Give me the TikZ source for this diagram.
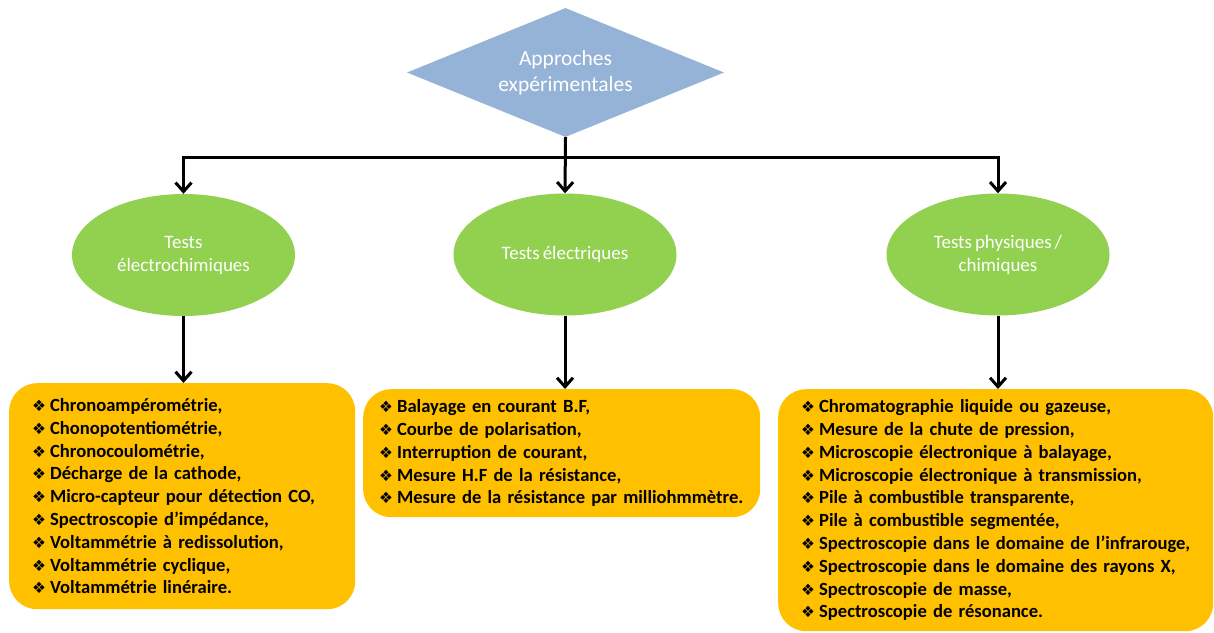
\documentclass[tikz,border=0pt]{standalone}
\usepackage{fontspec}
\setmainfont{Carlito}[WordSpace=0.7]
\newfontfamily\symfont{DejaVu Sans}
\usetikzlibrary{shapes.geometric,arrows.meta}
\definecolor{diamblue}{HTML}{95B3D7}
\definecolor{ellgreen}{HTML}{92D050}
\definecolor{boxorange}{HTML}{FFC000}
\newcommand{\itm}{{\symfont\fontsize{15.5}{15.5}\selectfont ❖}\hspace{4pt}}
\begin{document}
\begin{tikzpicture}[x=1pt,y=-1pt,
  topnode/.style={diamond, fill=diamblue, inner sep=0pt, aspect=2.46, minimum width=317pt, minimum height=129pt, text=white, font=\fontsize{21.5}{26}\selectfont, align=center},
  testnode/.style={ellipse, fill=ellgreen, inner sep=0pt, minimum width=223pt, minimum height=122pt, text=white, font=\fontsize{19}{23}\selectfont, align=center},
  listbox/.style={rectangle, rounded corners=28pt, fill=boxorange, anchor=north west, font=\bfseries\fontsize{18.6}{22.8}\selectfont, align=left, inner ysep=0pt},
  conn/.style={line width=3pt, -{Straight Barb[length=9pt,width=16pt]}},
]
\fill[white] (0,0) rectangle (1214,632);
\useasboundingbox (0,0) rectangle (1214,632);

\node[topnode] (top) at (565.5,72.5) {Approches\\expérimentales};

\node[testnode] (e1) at (183.5,255) {Tests\\électrochimiques};
\node[testnode] (e2) at (565,254.5) {Tests électriques};
\node[testnode] (e3) at (998,254.5) {Tests physiques /\\chimiques};

\node[listbox, minimum width=346pt, minimum height=226pt, text width=300pt, inner xsep=22pt] (b1) at (9,383) {%
\itm Chronoampérométrie,\\
\itm Chonopotentiométrie,\\
\itm Chronocoulométrie,\\
\itm Décharge de la cathode,\\
\itm Micro-capteur pour détection CO,\\
\itm Spectroscopie d’impédance,\\
\itm Voltammétrie à redissolution,\\
\itm Voltammétrie cyclique,\\
\itm Voltammétrie linéraire.};

\node[listbox, minimum width=397pt, minimum height=128pt, text width=365pt, inner xsep=16pt] (b2) at (363,389) {%
\itm Balayage en courant B.F,\\
\itm Courbe de polarisation,\\
\itm Interruption de courant,\\
\itm Mesure H.F de la résistance,\\
\itm Mesure de la résistance par milliohmmètre.};

\node[listbox, minimum width=435pt, minimum height=242pt, text width=389pt, inner xsep=23pt] (b3) at (778,389) {%
\itm Chromatographie liquide ou gazeuse,\\
\itm Mesure de la chute de pression,\\
\itm Microscopie électronique à balayage,\\
\itm Microscopie électronique à transmission,\\
\itm Pile à combustible transparente,\\
\itm Pile à combustible segmentée,\\
\itm Spectroscopie dans le domaine de l’infrarouge,\\
\itm Spectroscopie dans le domaine des rayons X,\\
\itm Spectroscopie de masse,\\
\itm Spectroscopie de résonance.};

\coordinate (bus) at (565,157);
\draw[conn] (top.south) -- (e2.north);
\draw[conn] (bus) -| (e1.north);
\draw[conn] (bus) -| (e3.north);
\draw[conn] (e1.south) -- (e1.south |- b1.north);
\draw[conn] (e2.south) -- (e2.south |- b2.north);
\draw[conn] (e3.south) -- (e3.south |- b3.north);
\end{tikzpicture}
\end{document}
